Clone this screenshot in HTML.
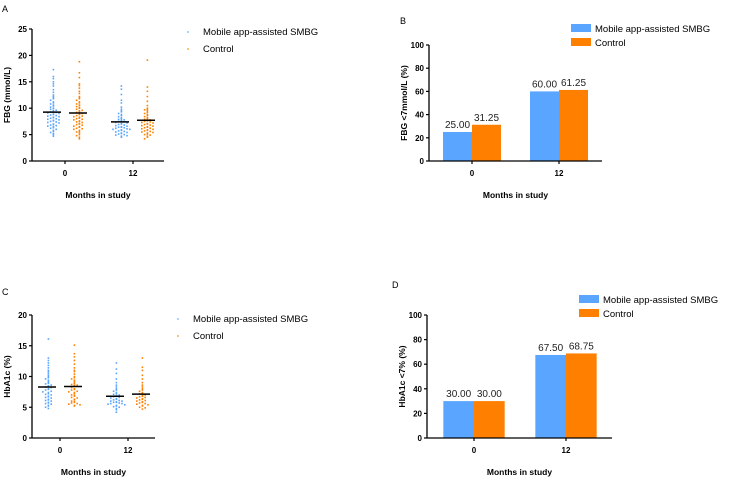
<!DOCTYPE html>
<html><head><meta charset="utf-8"><style>
body{margin:0;background:#fff}
svg{display:block;font-family:"Liberation Sans",Arial,sans-serif}
</style></head><body>
<svg id="s" width="741" height="481" viewBox="0 0 741 481"></svg>
<script>
const BLUE='#5aa5ff', ORANGE='#ff8000';
const categories=['0','12'];
const seriesNames=['Mobile app-assisted SMBG','Control'];
// Panel A: FBG raw values (mmol/L)
const fbgBlue0=[17.3,16.0,15.6,15.0,14.6,14.2,13.5,13.0,12.5,12.2,12.0,11.8,11.5,11.2,11.0,10.8,10.6,10.4,10.2,10.0,9.9,9.8,9.6,9.5,9.4,9.3,9.2,9.1,9.0,8.9,8.8,8.7,8.6,8.5,8.4,8.3,8.2,8.1,8.0,7.9,7.8,7.7,7.6,7.5,7.4,7.3,7.2,7.0,6.9,6.8,6.7,6.6,6.5,6.3,6.2,6.0,5.8,5.6,5.4,5.2,5.0,4.7];
const fbgOrange0=[18.8,16.7,15.8,14.6,14.3,13.8,13.2,12.8,12.2,12.0,11.8,11.5,11.2,11.0,10.8,10.6,10.5,10.3,10.1,10.0,9.8,9.6,9.5,9.3,9.2,9.0,8.9,8.8,8.6,8.5,8.4,8.3,8.1,8.0,7.9,7.8,7.6,7.5,7.4,7.3,7.1,7.0,6.9,6.8,6.6,6.5,6.4,6.2,6.1,6.0,5.8,5.6,5.5,5.3,5.0,4.8,4.5,4.2];
const fbgBlue12=[14.2,13.6,12.6,11.5,11.0,10.2,9.8,9.5,9.3,9.0,8.8,8.6,8.4,8.2,8.0,7.9,7.8,7.7,7.6,7.5,7.4,7.3,7.2,7.1,7.0,6.9,6.8,6.7,6.6,6.5,6.4,6.4,6.3,6.2,6.1,6.0,6.0,5.9,5.8,5.7,5.6,5.5,5.4,5.3,5.2,5.1,5.0,4.9,4.8,4.7,4.5];
const fbgOrange12=[19.1,14.0,13.2,12.2,11.3,10.5,10.0,9.8,9.7,9.5,9.2,9.0,8.8,8.6,8.4,8.2,8.0,7.9,7.8,7.7,7.6,7.5,7.4,7.3,7.2,7.1,7.0,6.9,6.8,6.7,6.6,6.5,6.4,6.3,6.2,6.1,6.0,5.9,5.8,5.7,5.6,5.5,5.4,5.3,5.1,5.0,4.9,4.7,4.5,4.2];
// Panel C: HbA1c raw values (%)
const hbBlue0=[16.1,13.0,12.6,12.2,11.8,11.4,11.0,10.8,10.5,10.2,10.0,9.8,9.6,9.4,9.2,9.0,8.9,8.8,8.6,8.5,8.4,8.3,8.2,8.0,7.9,7.8,7.6,7.5,7.4,7.2,7.1,7.0,6.8,6.7,6.6,6.5,6.3,6.2,6.1,6.0,5.8,5.7,5.6,5.5,5.3,5.2,5.0,4.8];
const hbOrange0=[15.1,13.7,13.2,12.6,12.0,11.4,11.0,10.8,10.4,10.0,9.8,9.6,9.4,9.2,9.0,8.8,8.7,8.6,8.5,8.4,8.2,8.0,7.9,7.8,7.6,7.5,7.4,7.2,7.0,6.9,6.8,6.6,6.5,6.3,6.2,6.0,5.9,5.8,5.7,5.6,5.5,5.4,5.3,5.2];
const hbBlue12=[12.2,11.2,10.5,9.6,9.0,8.6,8.3,8.0,7.8,7.6,7.4,7.2,7.1,7.0,6.9,6.8,6.7,6.6,6.5,6.4,6.3,6.2,6.1,6.0,6.0,5.9,5.8,5.8,5.7,5.6,5.6,5.5,5.4,5.3,5.2,5.1,5.0,4.8,4.6,4.2];
const hbOrange12=[13.0,11.5,11.0,10.2,9.6,9.0,8.6,8.3,8.0,7.8,7.6,7.4,7.3,7.2,7.0,6.9,6.8,6.7,6.6,6.5,6.4,6.3,6.2,6.1,6.0,5.9,5.8,5.7,5.6,5.5,5.4,5.3,5.2,5.0,4.9,4.7];
// Panel B / D: percentages
const fbgPctBlue=[25.00,60.00];
const fbgPctOrange=[31.25,61.25];
const hbPctBlue=[30.00,67.50];
const hbPctOrange=[30.00,68.75];
const ticksA=[0,5,10,15,20,25];
const ticksC=[0,5,10,15,20];
const ticksPct=[0,20,40,60,80,100];

const svg=document.getElementById('s');
const NS='http://www.w3.org/2000/svg';
function el(tag,at,parent,name,txt){const e=document.createElementNS(NS,tag);for(const k in at)e.setAttribute(k,at[k]);


if(txt!==undefined)e.textContent=txt;(parent||svg).appendChild(e);return e;}

function axes(g,x0,x1,yTop,yBot,max,ticks,catX,ytitle,id){
  const y=v=>yBot-(v/max)*(yBot-yTop);
  el('line',{x1:x0,y1:yTop,x2:x0,y2:yBot,stroke:'#000','stroke-width':1.3},g,id+'-y-axis');
  el('line',{x1:x0,y1:yBot,x2:x1,y2:yBot,stroke:'#000','stroke-width':1.3},g,id+'-x-axis');
  ticks.forEach(t=>{el('line',{x1:x0-3,y1:y(t),x2:x0,y2:y(t),stroke:'#000','stroke-width':1.2},g,id+'-y-tick');
    el('text',{x:x0-5,y:y(t)+3,'text-anchor':'end','font-size':8,'font-weight':'bold'},g,id+'-y-tick-label',t);});
  categories.forEach((c,i)=>{el('line',{x1:catX[i],y1:yBot,x2:catX[i],y2:yBot+3,stroke:'#000','stroke-width':1.2},g,id+'-x-tick');
    el('text',{x:catX[i],y:yBot+15,'text-anchor':'middle','font-size':8,'font-weight':'bold'},g,id+'-x-tick-label',c);});
  el('text',{x:(x0+x1)/2,y:yBot+37,'text-anchor':'middle','font-size':8.5,'font-weight':'bold'},g,id+'-x-axis-title','Months in study');
  el('text',{transform:`translate(${x0-22},${(yTop+yBot)/2}) rotate(-90)`,'text-anchor':'middle','font-size':8.5,'font-weight':'bold'},g,id+'-y-axis-title',ytitle);
  return y;
}
function swarm(g,vals,cx,y,color,id){
  const bins={};
  vals.forEach(v=>{const py=y(v);const b=Math.round(py/3.2);const k=bins[b]||0;bins[b]=k+1;
    const off=(k%2?1:-1)*Math.ceil(k/2)*2.8+(k%2?-1.4:1.4);
    el('rect',{x:cx+off-0.8,y:py-0.8,width:1.6,height:1.6,fill:color},g,id+'-point');});
  const m=vals.reduce((a,b)=>a+b,0)/vals.length;
  el('line',{x1:cx-9,y1:y(m),x2:cx+9,y2:y(m),stroke:'#000','stroke-width':1.5},g,id+'-mean-line');
}
function scatterPanel(id,letter,lx,ly,x0,x1,yTop,yBot,max,ticks,catX,title,data,legX,legY){
  const g=el('g',{},svg,id);
  el('text',{x:lx,y:ly,'font-size':9},g,id+'-label',letter);
  const y=axes(g,x0,x1,yTop,yBot,max,ticks,catX,title,id);
  data.forEach((d,i)=>{swarm(g,d[0],catX[i]-13,y,BLUE,id+'-smbg');swarm(g,d[1],catX[i]+13,y,ORANGE,id+'-control');});
  [BLUE,ORANGE].forEach((c,i)=>{const lg=el('g',{},g,id+'-legend-entry');
    el('rect',{x:legX-0.7,y:legY+i*17-3.7,width:1.4,height:1.4,fill:c},lg,id+'-legend-marker');
    el('text',{x:legX+15,y:legY+i*17,'font-size':9.5},lg,id+'-legend-text',seriesNames[i]);});
}
function barPanel(id,letter,lx,ly,x0,x1,yTop,yBot,catX,title,b,o,legX,legY){
  const g=el('g',{},svg,id);
  el('text',{x:lx,y:ly,'font-size':9},g,id+'-label',letter);
  const bw=(catX[1]-catX[0])/3;
  const y=v=>yBot-(v/100)*(yBot-yTop);
  [b,o].forEach((arr,s)=>arr.forEach((v,i)=>{
    const x=s===0?catX[i]-bw:catX[i];
    el('rect',{x:x,y:y(v),width:bw,height:yBot-y(v),fill:s?ORANGE:BLUE},g,id+(s?'-control-bar':'-smbg-bar'));
    el('text',{x:x+bw/2,y:y(v)-4,'text-anchor':'middle','font-size':10,fill:'#222'},g,id+'-value-label',v.toFixed(2));
  }));
  axes(g,x0,x1,yTop,yBot,100,ticksPct,catX,title,id);
  [BLUE,ORANGE].forEach((c,i)=>{const lg=el('g',{},g,id+'-legend-entry');
    el('rect',{x:legX,y:legY+i*14,width:20,height:8,fill:c},lg,id+'-legend-swatch');
    el('text',{x:legX+24,y:legY+i*14+8,'font-size':9.5},lg,id+'-legend-text',seriesNames[i]);});
}
scatterPanel('panel-a','A',2,12,32,164,29,161,25,ticksA,[65,133],'FBG (mmol/L)',[[fbgBlue0,fbgOrange0],[fbgBlue12,fbgOrange12]],188,35);
barPanel('panel-b','B',400,24,429,602,45,161,[472,559],'FBG <7mmol/L (%)',fbgPctBlue,fbgPctOrange,571,24);
scatterPanel('panel-c','C',2,295,32,155,315,438,20,ticksC,[60,128],'HbA1c (%)',[[hbBlue0,hbOrange0],[hbBlue12,hbOrange12]],178,322);
barPanel('panel-d','D',392,288,427,612,315,438,[474,566],'HbA1c <7% (%)',hbPctBlue,hbPctOrange,579,295);
</script>
</body></html>
